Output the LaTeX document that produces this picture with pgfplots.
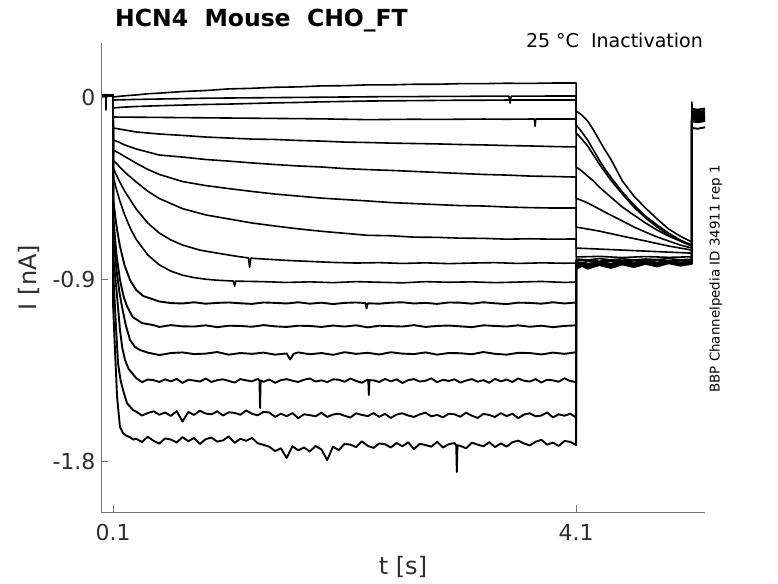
\documentclass[border=0pt]{standalone}
\usepackage{fontspec}
\setmainfont{DejaVu Sans}
\usepackage{pgfplots}
\pgfplotsset{compat=1.18}
\tikzset{
  trace/.style={black, line width=1.6pt, line join=round, mark=none},
  ntrace/.style={black, line width=1.9pt, line join=round, mark=none}
}
\begin{document}
\begin{tikzpicture}
\useasboundingbox (0pt,0pt) rectangle (778pt,583pt);
\begin{axis}[
  at={(101pt,71pt)}, anchor=south west,
  scale only axis, width=604pt, height=469pt,
  xmin=-0.004, xmax=5.214, ymin=-2.052, ymax=0.267,
  axis x line*=bottom, axis y line*=left,
  axis line style={black!55, line width=0.8pt},
  xtick={0.1,4.1}, xticklabels={0.1,4.1},
  ytick={-1.8,-0.9,0}, yticklabels={-1.8,-0.9,0},
  tick align=inside, major tick length=7pt,
  tick style={black!55, line width=0.8pt},
  ticklabel style={font=\fontsize{22}{22}\selectfont, text=black!82},
  xticklabel style={yshift=-9pt},
  yticklabel style={xshift=-2pt},
  xlabel={t [s]}, ylabel={I [nA]},
  label style={font=\fontsize{24}{24}\selectfont, text=black!82},
  xlabel style={at={(axis description cs:0.5,-0.117)}, anchor=center},
  ylabel style={at={(axis description cs:-0.119,0.5)}, anchor=center},
  clip=false,
]
% T1
\addplot[trace] coordinates {(0.005,0.010)(0.03,0.011)(0.037,0.012)(0.039,-0.064)(0.041,0.012)(0.06,0.010)(0.1,0.008)
(0.1005,0.000)(0.15,0.003)(0.2,0.006)(0.3,0.010)(0.4,0.016)(0.5,0.019)(0.7,0.027)(0.9,0.032)(1.1,0.040)(1.3,0.043)(1.5,0.048)(1.7,0.050)(1.9,0.055)(2.1,0.056)(2.3,0.060)(2.5,0.060)(2.7,0.063)(2.9,0.063)(3.1,0.066)(3.3,0.066)(3.5,0.068)(3.7,0.067)(3.9,0.069)(4.1,0.069)
(4.1005,-0.069)(4.15,-0.089)(4.2,-0.119)(4.25,-0.163)(4.3,-0.213)(4.35,-0.262)(4.4,-0.307)(4.5,-0.415)(4.6,-0.490)(4.7,-0.549)(4.8,-0.603)(4.9,-0.653)(5.0,-0.688)(5.1,-0.717)
(5.1005,-0.025)(5.104,-0.058)(5.15,-0.062)(5.214,-0.056)};
% T2
\addplot[trace] coordinates {(0.005,0.008)(0.1,0.008)(0.1005,-0.015)(0.3,-0.012)(0.5,-0.010)(0.7,-0.008)(0.9,-0.006)(1.1,-0.005)(1.3,-0.004)(1.5,-0.003)(1.7,-0.002)(1.9,-0.001)(2.1,0.000)(2.3,0.001)(2.5,0.002)(2.7,0.002)(2.9,0.003)(3.1,0.003)(3.3,0.004)(3.5,0.004)(3.52,0.004)(3.53,-0.030)(3.54,0.004)(3.7,0.004)(3.9,0.005)(4.1,0.005)
(4.1005,-0.138)(4.15,-0.173)(4.2,-0.213)(4.25,-0.262)(4.3,-0.312)(4.35,-0.356)(4.4,-0.396)(4.5,-0.470)(4.6,-0.534)(4.7,-0.589)(4.8,-0.633)(4.9,-0.673)(5.0,-0.707)(5.1,-0.732)
(5.1005,-0.062)(5.15,-0.066)(5.214,-0.060)};
% T3
\addplot[trace] coordinates {(0.005,0.008)(0.1,0.008)(0.1005,-0.054)(0.2,-0.050)(0.3,-0.047)(0.5,-0.043)(0.7,-0.040)(0.9,-0.037)(1.1,-0.035)(1.3,-0.032)(1.5,-0.029)(1.7,-0.027)(1.9,-0.024)(2.1,-0.022)(2.3,-0.020)(2.5,-0.019)(2.7,-0.018)(2.9,-0.017)(3.1,-0.016)(3.3,-0.016)(3.5,-0.015)(3.7,-0.015)(3.9,-0.015)(4.1,-0.015)
(4.1005,-0.178)(4.15,-0.208)(4.2,-0.242)(4.25,-0.287)(4.3,-0.331)(4.35,-0.371)(4.4,-0.411)(4.5,-0.480)(4.6,-0.544)(4.7,-0.598)(4.8,-0.643)(4.9,-0.683)(5.0,-0.712)(5.1,-0.737)
(5.1005,-0.070)(5.15,-0.074)(5.214,-0.068)};
% T4
\addplot[trace] coordinates {(0.005,0.008)(0.1,0.008)(0.1005,-0.099)(0.3,-0.100)(0.5,-0.101)(0.7,-0.102)(0.9,-0.103)(1.1,-0.104)(1.3,-0.105)(1.5,-0.106)(1.7,-0.107)(1.9,-0.108)(2.1,-0.110)(2.3,-0.112)(2.5,-0.111)(2.7,-0.110)(2.9,-0.111)(3.1,-0.110)(3.3,-0.109)(3.5,-0.110)(3.7,-0.109)(3.74,-0.109)(3.746,-0.145)(3.752,-0.109)(3.9,-0.109)(4.1,-0.109)
(4.1005,-0.346)(4.15,-0.366)(4.2,-0.391)(4.25,-0.415)(4.3,-0.445)(4.35,-0.470)(4.4,-0.495)(4.5,-0.544)(4.6,-0.584)(4.7,-0.623)(4.8,-0.658)(4.9,-0.688)(5.0,-0.712)(5.1,-0.737)
(5.1005,-0.076)(5.15,-0.080)(5.214,-0.075)};
% T5
\addplot[trace] coordinates {(0.005,0.008)(0.1,0.008)(0.1005,-0.153)(0.2,-0.163)(0.3,-0.173)(0.5,-0.183)(0.7,-0.190)(0.9,-0.198)(1.1,-0.203)(1.3,-0.208)(1.5,-0.210)(1.7,-0.215)(1.9,-0.218)(2.1,-0.223)(2.3,-0.225)(2.5,-0.228)(2.7,-0.230)(2.9,-0.232)(3.1,-0.235)(3.3,-0.237)(3.5,-0.240)(3.7,-0.242)(3.9,-0.245)(4.1,-0.247)
(4.1005,-0.500)(4.2,-0.524)(4.3,-0.554)(4.4,-0.584)(4.5,-0.613)(4.6,-0.643)(4.7,-0.668)(4.8,-0.692)(4.9,-0.712)(5.0,-0.732)(5.1,-0.747)
(5.1005,-0.082)(5.15,-0.086)(5.214,-0.081)};
% T6
\addplot[trace] coordinates {(0.005,0.008)(0.1,0.008)(0.1005,-0.213)(0.15,-0.223)(0.2,-0.237)(0.3,-0.257)(0.4,-0.272)(0.5,-0.287)(0.7,-0.297)(0.9,-0.309)(1.1,-0.317)(1.3,-0.326)(1.5,-0.334)(1.7,-0.341)(1.9,-0.346)(2.1,-0.354)(2.3,-0.359)(2.5,-0.363)(2.7,-0.368)(2.9,-0.373)(3.1,-0.378)(3.3,-0.383)(3.5,-0.386)(3.7,-0.391)(3.9,-0.393)(4.1,-0.396)
(4.1005,-0.643)(4.3,-0.663)(4.5,-0.688)(4.7,-0.712)(4.9,-0.737)(5.1,-0.757)
(5.1005,-0.088)(5.15,-0.092)(5.214,-0.087)};
% T7
\addplot[trace] coordinates {(0.005,0.008)(0.1,0.008)(0.1005,-0.262)(0.15,-0.277)(0.2,-0.294)(0.3,-0.327)(0.4,-0.358)(0.5,-0.383)(0.7,-0.418)(0.9,-0.438)(1.1,-0.453)(1.3,-0.467)(1.5,-0.480)(1.7,-0.490)(1.9,-0.500)(2.1,-0.507)(2.3,-0.514)(2.5,-0.522)(2.7,-0.527)(2.9,-0.532)(3.1,-0.537)(3.3,-0.539)(3.5,-0.544)(3.7,-0.547)(3.9,-0.549)(4.1,-0.549)
(4.1005,-0.747)(4.3,-0.752)(4.5,-0.757)(4.7,-0.762)(4.9,-0.767)(5.1,-0.772)
(5.1005,-0.094)(5.15,-0.098)(5.214,-0.093)};
% T8
\addplot[trace] coordinates {(0.005,0.008)(0.1,0.008)(0.1005,-0.312)(0.15,-0.341)(0.2,-0.371)(0.3,-0.420)(0.4,-0.466)(0.5,-0.502)(0.7,-0.552)(0.9,-0.583)(1.1,-0.603)(1.3,-0.623)(1.5,-0.638)(1.7,-0.652)(1.9,-0.664)(2.1,-0.674)(2.3,-0.684)(2.5,-0.686)(2.7,-0.693)(2.9,-0.694)(3.1,-0.698)(3.3,-0.699)(3.5,-0.703)(3.7,-0.701)(3.9,-0.703)(4.1,-0.702)
(4.1005,-0.791)(4.3,-0.788)(4.5,-0.794)(4.7,-0.789)(4.9,-0.793)(5.1,-0.790)
(5.1005,-0.100)(5.15,-0.104)(5.214,-0.099)};
% T9
\addplot[trace] coordinates {(0.005,0.008)(0.1,0.008)(0.1005,-0.351)(0.15,-0.411)(0.2,-0.465)(0.3,-0.554)(0.4,-0.623)(0.5,-0.673)(0.6,-0.707)(0.7,-0.732)(0.85,-0.757)(1.0,-0.772)(1.15,-0.786)(1.27,-0.796)(1.28,-0.843)(1.29,-0.797)(1.4,-0.801)(1.6,-0.808)(1.8,-0.813)(2.0,-0.818)(2.2,-0.821)(2.4,-0.819)(2.6,-0.823)(2.8,-0.820)(3.0,-0.824)(3.2,-0.821)(3.4,-0.819)(3.6,-0.823)(3.8,-0.820)(4.0,-0.822)(4.1,-0.821)
(4.1005,-0.801)(4.2,-0.806)(4.3,-0.799)(4.4,-0.805)(4.5,-0.800)(4.6,-0.806)(4.7,-0.801)(4.8,-0.804)(4.9,-0.799)(5.0,-0.805)(5.1,-0.802)
(5.1005,-0.104)(5.15,-0.108)(5.214,-0.103)};
% T10
\addplot[trace] coordinates {(0.005,0.008)(0.1,0.008)(0.1005,-0.391)(0.13,-0.458)(0.16,-0.516)(0.2,-0.582)(0.25,-0.650)(0.3,-0.704)(0.4,-0.781)(0.5,-0.830)(0.6,-0.861)(0.7,-0.881)(0.8,-0.893)(0.9,-0.901)(1.0,-0.906)(1.14,-0.910)(1.15,-0.935)(1.16,-0.910)(1.2,-0.911)(1.4,-0.913)(1.6,-0.917)(1.8,-0.914)(2.0,-0.918)(2.2,-0.913)(2.4,-0.916)(2.6,-0.919)(2.8,-0.913)(3.0,-0.916)(3.2,-0.914)(3.4,-0.918)(3.6,-0.915)(3.8,-0.912)(4.0,-0.917)(4.1,-0.915)
(4.1005,-0.811)(4.2,-0.805)(4.3,-0.812)(4.4,-0.806)(4.5,-0.811)(4.6,-0.805)(4.7,-0.810)(4.8,-0.806)(4.9,-0.811)(5.0,-0.807)(5.1,-0.809)
(5.1005,-0.108)(5.15,-0.112)(5.214,-0.107)};
% T11
\addplot[ntrace] coordinates {(0.005,0.008)(0.1,0.008)(0.1005,-0.500)(0.12,-0.596)(0.135,-0.657)(0.16,-0.739)(0.2,-0.833)(0.247,-0.905)(0.3,-0.954)(0.36,-0.984)(0.5,-1.011)
(0.6,-1.019)(0.7,-1.021)(0.8,-1.015)(0.9,-1.022)(1.0,-1.018)(1.1,-1.016)(1.2,-1.020)(1.3,-1.023)(1.4,-1.016)(1.5,-1.018)(1.6,-1.021)(1.7,-1.015)(1.8,-1.022)(1.9,-1.017)(2.0,-1.024)(2.1,-1.018)(2.2,-1.016)(2.28,-1.019)(2.29,-1.045)(2.3,-1.020)(2.4,-1.022)(2.5,-1.017)(2.6,-1.015)(2.7,-1.021)(2.8,-1.018)(2.9,-1.023)(3.0,-1.016)(3.1,-1.017)(3.2,-1.022)(3.3,-1.015)(3.4,-1.020)(3.5,-1.024)(3.6,-1.017)(3.7,-1.018)(3.8,-1.022)(3.9,-1.015)(4.0,-1.021)(4.1,-1.016)
(4.1005,-0.816)(4.15,-0.822)(4.2,-0.812)(4.3,-0.819)(4.4,-0.810)(4.5,-0.817)(4.6,-0.809)(4.7,-0.815)(4.8,-0.808)(4.9,-0.814)(5.0,-0.807)(5.1,-0.812)
(5.1005,-0.112)(5.15,-0.116)(5.214,-0.110)};
% T12
\addplot[ntrace] coordinates {(0.005,0.008)(0.1,0.008)(0.1005,-0.584)(0.13,-0.781)(0.16,-0.905)(0.19,-0.984)(0.22,-1.034)(0.27,-1.088)(0.35,-1.118)(0.45,-1.128)
(0.5,-1.137)(0.6,-1.128)(0.7,-1.134)(0.8,-1.135)(0.9,-1.129)(1.0,-1.138)(1.1,-1.131)(1.2,-1.132)(1.3,-1.136)(1.4,-1.128)(1.5,-1.134)(1.6,-1.137)(1.7,-1.131)(1.8,-1.132)(1.9,-1.137)(2.0,-1.130)(2.1,-1.135)(2.2,-1.129)(2.3,-1.139)(2.4,-1.131)(2.5,-1.133)(2.6,-1.135)(2.7,-1.128)(2.8,-1.137)(2.9,-1.132)(3.0,-1.130)(3.1,-1.134)(3.2,-1.138)(3.3,-1.129)(3.4,-1.132)(3.5,-1.135)(3.6,-1.129)(3.7,-1.136)(3.8,-1.131)(3.9,-1.138)(4.0,-1.132)(4.1,-1.129)
(4.1005,-0.826)(4.15,-0.818)(4.2,-0.827)(4.3,-0.816)(4.4,-0.824)(4.5,-0.814)(4.6,-0.822)(4.7,-0.812)(4.8,-0.820)(4.9,-0.811)(5.0,-0.818)(5.1,-0.813)
(5.1005,-0.115)(5.15,-0.119)(5.214,-0.113)};
% T13
\addplot[ntrace] coordinates {(0.005,0.008)(0.1,0.008)(0.1005,-0.683)(0.13,-0.856)(0.155,-0.965)(0.178,-1.039)(0.21,-1.128)(0.247,-1.202)(0.29,-1.236)(0.333,-1.251)
(0.4,-1.264)(0.5,-1.276)(0.6,-1.266)(0.7,-1.263)(0.8,-1.271)(0.9,-1.269)(1.0,-1.261)(1.1,-1.274)(1.2,-1.266)(1.3,-1.270)(1.4,-1.264)(1.5,-1.274)(1.6,-1.268)(1.63,-1.298)(1.66,-1.270)(1.7,-1.263)(1.8,-1.272)(1.9,-1.266)(2.0,-1.275)(2.1,-1.262)(2.2,-1.270)(2.3,-1.265)(2.4,-1.273)(2.5,-1.262)(2.6,-1.269)(2.7,-1.271)(2.8,-1.263)(2.9,-1.274)(3.0,-1.266)(3.1,-1.267)(3.2,-1.272)(3.3,-1.261)(3.4,-1.270)(3.5,-1.274)(3.6,-1.265)(3.7,-1.266)(3.8,-1.273)(3.9,-1.264)(4.0,-1.270)(4.1,-1.262)
(4.1005,-0.831)(4.15,-0.822)(4.2,-0.833)(4.3,-0.820)(4.4,-0.829)(4.5,-0.817)(4.6,-0.826)(4.7,-0.815)(4.8,-0.823)(4.9,-0.813)(5.0,-0.821)(5.1,-0.814)
(5.1005,-0.118)(5.15,-0.122)(5.214,-0.116)};
% T14
\addplot[ntrace] coordinates {(0.005,0.008)(0.1,0.008)(0.1005,-0.781)(0.13,-0.955)(0.16,-1.152)(0.18,-1.241)(0.204,-1.301)(0.235,-1.345)(0.264,-1.365)(0.3,-1.390)
(0.35,-1.410)(0.40,-1.397)(0.45,-1.400)(0.50,-1.409)(0.55,-1.396)(0.60,-1.406)(0.65,-1.394)(0.70,-1.414)(0.75,-1.398)(0.80,-1.402)(0.85,-1.407)(0.90,-1.392)(0.95,-1.409)(1.00,-1.400)(1.05,-1.396)(1.10,-1.404)(1.15,-1.412)(1.20,-1.395)(1.25,-1.401)(1.30,-1.406)(1.35,-1.394)(1.365,-1.402)(1.37,-1.538)(1.375,-1.402)(1.40,-1.408)(1.45,-1.397)(1.50,-1.413)(1.55,-1.400)(1.60,-1.395)(1.65,-1.403)(1.70,-1.409)(1.75,-1.398)(1.80,-1.392)(1.85,-1.407)(1.90,-1.401)(1.95,-1.410)(2.00,-1.396)(2.05,-1.398)(2.10,-1.408)(2.15,-1.392)(2.20,-1.404)(2.25,-1.413)(2.30,-1.397)(2.305,-1.400)(2.31,-1.474)(2.315,-1.400)(2.35,-1.401)(2.40,-1.409)(2.45,-1.394)(2.50,-1.406)(2.55,-1.396)(2.60,-1.414)(2.65,-1.400)(2.70,-1.395)(2.75,-1.407)(2.80,-1.403)(2.85,-1.391)(2.90,-1.410)(2.95,-1.398)(3.00,-1.404)(3.05,-1.396)(3.10,-1.412)(3.15,-1.402)(3.20,-1.395)(3.25,-1.408)(3.30,-1.400)(3.35,-1.413)(3.40,-1.394)(3.45,-1.406)(3.50,-1.397)(3.55,-1.409)(3.60,-1.392)(3.65,-1.403)(3.70,-1.407)(3.75,-1.395)(3.80,-1.412)(3.85,-1.398)(3.90,-1.401)(3.95,-1.408)(4.00,-1.391)(4.05,-1.404)(4.10,-1.410)
(4.1005,-0.836)(4.15,-0.825)(4.2,-0.838)(4.3,-0.823)(4.4,-0.834)(4.5,-0.820)(4.6,-0.831)(4.7,-0.818)(4.8,-0.828)(4.9,-0.816)(5.0,-0.825)(5.1,-0.817)
(5.1005,-0.120)(5.15,-0.125)(5.214,-0.119)};
% T15
\addplot[ntrace] coordinates {(0.005,0.008)(0.1,0.008)(0.1005,-0.861)(0.12,-1.078)(0.143,-1.316)(0.165,-1.400)(0.186,-1.449)(0.221,-1.514)(0.273,-1.548)
(0.30,-1.556)(0.35,-1.575)(0.40,-1.563)(0.45,-1.554)(0.50,-1.571)(0.55,-1.560)(0.60,-1.577)(0.65,-1.553)(0.70,-1.605)(0.75,-1.557)(0.80,-1.572)(0.85,-1.551)(0.90,-1.565)(0.95,-1.569)(1.00,-1.554)(1.05,-1.575)(1.10,-1.559)(1.15,-1.562)(1.20,-1.571)(1.25,-1.550)(1.30,-1.566)(1.35,-1.574)(1.40,-1.557)(1.45,-1.560)(1.50,-1.582)(1.55,-1.566)(1.60,-1.578)(1.65,-1.563)(1.70,-1.588)(1.75,-1.569)(1.80,-1.573)(1.85,-1.579)(1.90,-1.561)(1.95,-1.582)(2.00,-1.570)(2.05,-1.566)(2.10,-1.576)(2.15,-1.585)(2.20,-1.564)(2.25,-1.572)(2.30,-1.578)(2.35,-1.563)(2.40,-1.581)(2.45,-1.567)(2.50,-1.587)(2.55,-1.570)(2.60,-1.564)(2.65,-1.575)(2.70,-1.582)(2.75,-1.569)(2.80,-1.561)(2.85,-1.579)(2.90,-1.572)(2.95,-1.584)(3.00,-1.566)(3.05,-1.569)(3.10,-1.581)(3.15,-1.561)(3.20,-1.576)(3.25,-1.587)(3.30,-1.567)(3.35,-1.572)(3.40,-1.582)(3.45,-1.563)(3.50,-1.578)(3.55,-1.566)(3.60,-1.588)(3.65,-1.570)(3.70,-1.564)(3.75,-1.579)(3.80,-1.575)(3.85,-1.560)(3.90,-1.584)(3.95,-1.569)(4.00,-1.576)(4.05,-1.566)(4.10,-1.585)
(4.1005,-0.841)(4.15,-0.829)(4.2,-0.843)(4.3,-0.826)(4.4,-0.839)(4.5,-0.823)(4.6,-0.836)(4.7,-0.821)(4.8,-0.832)(4.9,-0.819)(5.0,-0.829)(5.1,-0.820)
(5.1005,-0.098)(5.15,-0.102)(5.214,-0.096)};
% T16
\addplot[ntrace] coordinates {(0.005,0.008)(0.1,0.008)(0.1005,-1.030)(0.115,-1.227)(0.135,-1.484)(0.16,-1.632)(0.186,-1.662)(0.215,-1.675)(0.247,-1.682)(0.275,-1.694)
(0.30,-1.690)(0.35,-1.706)(0.40,-1.680)(0.45,-1.700)(0.50,-1.714)(0.55,-1.688)(0.60,-1.694)(0.65,-1.708)(0.70,-1.682)(0.75,-1.702)(0.80,-1.686)(0.85,-1.716)(0.90,-1.692)(0.95,-1.684)(1.00,-1.704)(1.05,-1.698)(1.10,-1.678)(1.15,-1.710)(1.20,-1.690)(1.25,-1.700)(1.30,-1.686)(1.35,-1.712)(1.40,-1.720)(1.45,-1.729)(1.50,-1.751)(1.55,-1.737)(1.60,-1.785)(1.65,-1.727)(1.70,-1.747)(1.75,-1.733)(1.80,-1.753)(1.85,-1.725)(1.90,-1.743)(1.95,-1.795)(2.00,-1.729)(2.05,-1.746)(2.10,-1.715)(2.15,-1.719)(2.20,-1.731)(2.25,-1.703)(2.30,-1.725)(2.35,-1.735)(2.40,-1.713)(2.45,-1.717)(2.50,-1.733)(2.55,-1.711)(2.60,-1.727)(2.65,-1.707)(2.70,-1.741)(2.75,-1.715)(2.80,-1.721)(2.85,-1.729)(2.90,-1.705)(2.95,-1.733)(3.00,-1.717)(3.05,-1.711)(3.065,-1.722)(3.07,-1.854)(3.075,-1.722)(3.10,-1.725)(3.15,-1.737)(3.20,-1.709)(3.25,-1.719)(3.30,-1.727)(3.35,-1.707)(3.40,-1.731)(3.45,-1.713)(3.50,-1.729)(3.55,-1.707)(3.60,-1.699)(3.65,-1.713)(3.70,-1.723)(3.75,-1.705)(3.80,-1.695)(3.85,-1.719)(3.90,-1.709)(3.95,-1.725)(4.00,-1.701)(4.05,-1.705)(4.10,-1.721)
(4.1005,-0.851)(4.15,-0.835)(4.2,-0.849)(4.3,-0.831)(4.4,-0.845)(4.5,-0.828)(4.6,-0.841)(4.7,-0.825)(4.8,-0.838)(4.9,-0.822)(5.0,-0.834)(5.1,-0.825)
(5.1005,-0.153)(5.15,-0.157)(5.214,-0.150)};
\end{axis}
\node[anchor=base west, inner sep=0pt, font=\fontsize{23.5}{23.5}\selectfont\bfseries] at (115pt,556pt) {HCN4\ \ Mouse\ \ CHO\_FT};
\node[anchor=base east, inner sep=0pt, font=\fontsize{19}{19}\selectfont] at (703pt,535pt) {25 °C\ \ Inactivation};
\node[rotate=90, font=\fontsize{13.4}{13.4}\selectfont] at (716pt,304pt) {BBP Channelpedia ID 34911 rep 1};
\end{tikzpicture}
\end{document}
